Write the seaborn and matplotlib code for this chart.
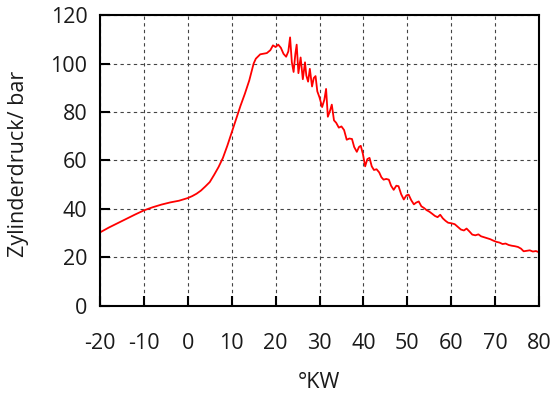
import matplotlib
matplotlib.use("Agg")
import matplotlib.pyplot as plt
import seaborn as sns
import pandas as pd

kurbelwinkel = [-20, -18, -16, -14, -12, -10, -8, -6, -4, -2, 0, 1, 2, 3, 4, 5, 6, 7, 8, 9,
                10, 11, 12, 13, 14, 15, 15.5, 16.5, 18, 18.8, 19.4, 20.0, 20.6, 21.2, 21.8,
                22.4, 22.9, 23.3, 23.7, 24.1, 24.5, 24.8, 25.2, 25.7, 26.2, 26.7, 27.0, 27.4,
                27.8, 28.3, 28.7, 29.1, 29.5, 30.0, 30.6, 31.1, 31.5, 31.9, 32.4, 32.8, 33.3,
                33.8, 34.4, 35.0, 35.6, 36.2, 36.8, 37.4, 37.9, 38.5, 39.0, 39.4, 39.9, 40.4,
                40.9, 41.4, 41.9, 42.4, 43.0, 43.6, 44.1, 44.6, 45.2, 45.8, 46.3, 46.9, 47.5,
                48.0, 48.6, 49.2, 49.8, 50.3, 50.9, 51.5, 52.0, 52.6, 53.2, 53.8, 54.4, 55.0,
                55.6, 56.3, 56.9, 57.5, 58.1, 58.7, 59.3, 60.0, 60.8, 61.5, 62.2, 62.9, 63.5,
                64.2, 64.8, 65.5, 66.2, 66.8, 67.5, 68.2, 68.9, 69.6, 70.3, 71.0, 71.7, 72.4,
                73.1, 73.8, 74.5, 75.2, 75.9, 76.5, 77.2, 77.9, 78.6, 79.3, 80.0]
zylinderdruck = [30.2, 32.2, 34.0, 35.8, 37.6, 39.3, 40.6, 41.7, 42.6, 43.3, 44.4, 45.2, 46.2,
                 47.5, 49.2, 51.0, 54.0, 57.2, 61.0, 66.0, 71.5, 77.0, 82.5, 87.5, 93.0, 100.0,
                 102.0, 103.8, 104.3, 105.5, 107.5, 106.8, 107.8, 106.5, 104.0, 102.8, 105.0,
                 110.8, 100.5, 96.5, 104.0, 107.8, 96.0, 102.5, 93.5, 100.5, 95.0, 92.5, 97.8,
                 90.5, 94.0, 94.8, 88.5, 86.0, 82.0, 85.0, 89.5, 78.0, 80.5, 83.0, 76.5, 75.5,
                 73.5, 74.0, 72.5, 68.5, 69.0, 68.8, 65.5, 63.5, 65.5, 66.0, 62.5, 57.5, 60.5,
                 61.0, 57.5, 56.0, 56.3, 55.0, 53.0, 52.0, 52.3, 52.0, 49.5, 47.8, 49.5, 49.3,
                 46.0, 43.8, 45.5, 45.8, 43.5, 41.8, 42.5, 43.0, 41.0, 40.3, 39.4, 38.8, 38.0,
                 37.0, 36.5, 37.5, 36.0, 35.0, 34.2, 34.0, 33.6, 32.5, 31.4, 31.0, 31.8, 30.5,
                 29.3, 29.0, 29.4, 28.6, 28.2, 27.8, 27.4, 26.8, 26.3, 26.0, 25.4, 25.6, 25.0,
                 24.7, 24.5, 24.2, 23.5, 22.4, 22.6, 22.8, 22.3, 22.5, 22.0]

x_ticks = [-20, -10, 0, 10, 20, 30, 40, 50, 60, 70, 80]
y_ticks = [0, 20, 40, 60, 80, 100, 120]

sns.set_style("ticks")
plt.rcParams['font.family'] = ['Open Sans', 'DejaVu Sans']

df = pd.DataFrame({"kw": kurbelwinkel, "p": zylinderdruck})

fig = plt.figure(figsize=(5.53, 3.96), dpi=100)
ax = fig.add_axes([100/553, 1 - 305.5/396, 439/553, 290.4/396])

sns.lineplot(data=df, x="kw", y="p", ax=ax, color="#ff0000", linewidth=1.3,
             estimator=None, sort=False)

ax.set_xlim(-20, 80)
ax.set_ylim(0, 120)
ax.set_xticks(x_ticks)
ax.set_yticks(y_ticks)
ax.set_xticklabels([str(t) for t in x_ticks])
ax.set_yticklabels([str(t) for t in y_ticks])
ax.grid(True, color="#444444", linestyle=(0, (3, 3)), linewidth=0.8)
ax.tick_params(axis="x", direction="in", length=7, width=1.5, pad=20,
               labelsize=15.5, colors="black", labelcolor="#1a1a1a")
ax.tick_params(axis="y", direction="in", length=7, width=1.5, pad=9,
               labelsize=15.5, colors="black", labelcolor="#1a1a1a")
for s in ax.spines.values():
    s.set_linewidth(1.5)
    s.set_color("black")
ax.set_xlabel("")
ax.set_ylabel("")

fig.text(19/553, 1 - 164/396, "Zylinderdruck/ bar", rotation=90, ha="center", va="center",
         fontsize=15.5, color="#1a1a1a")
fig.text(319/553, 1 - 382/396, "°KW", ha="center", va="center", fontsize=15.5, color="#1a1a1a")

fig.savefig("out.png", dpi=100)
